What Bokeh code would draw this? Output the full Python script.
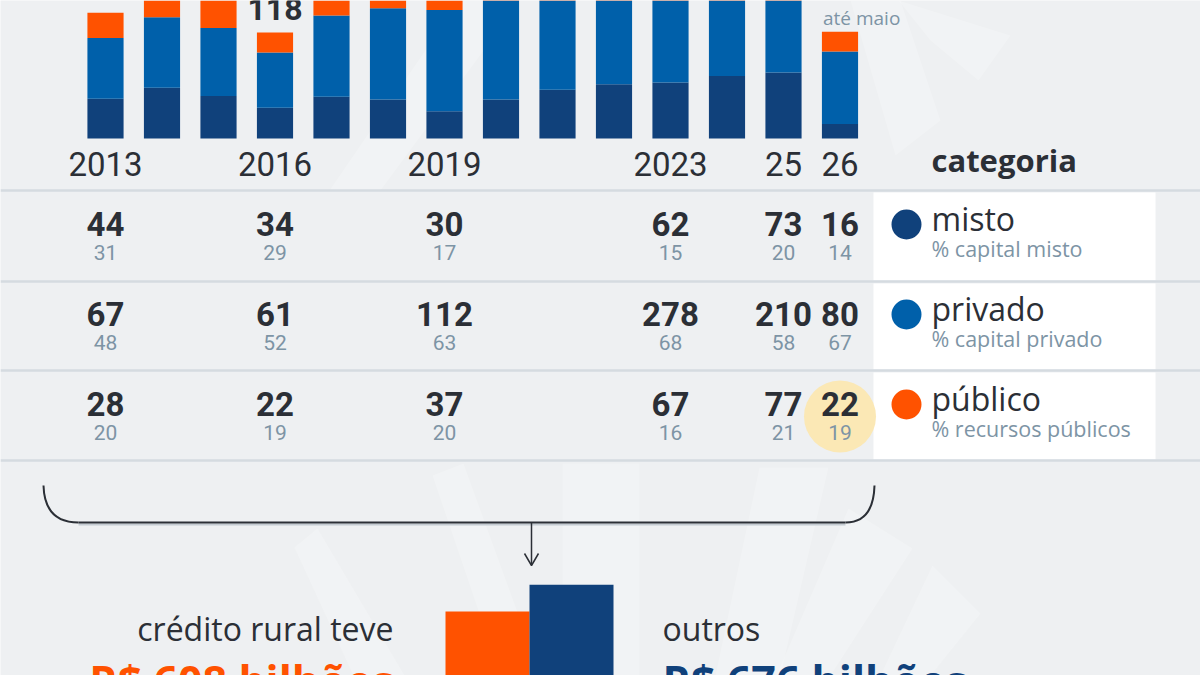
from bokeh.plotting import figure
from bokeh.models import Range1d, ColumnDataSource
from bokeh.core.properties import value
from bokeh.embed import file_html
from bokeh.resources import INLINE

# ---------------- data ----------------
years = [2013, 2014, 2015, 2016, 2017, 2018, 2019, 2020, 2021, 2022, 2023, 2024, 2025, 2026]
misto = [44, 56, 47, 34, 46, 43, 30, 43, 54, 60, 62, 69, 73, 16]
privado = [67, 78, 75, 61, 90, 101, 112, 140, 190, 230, 278, 250, 210, 80]
publico = [28, 27, 32, 22, 25, 28, 37, 35, 45, 60, 67, 70, 77, 22]
total_years = [2016]          # only total label visible in the picture
total_values = [118]

table_years = [2013, 2016, 2019, 2023, 2025, 2026]
year_labels = ["2013", "2016", "2019", "2023", "25", "26"]
misto_tab = [44, 34, 30, 62, 73, 16]
misto_pct = [31, 29, 17, 15, 20, 14]
privado_tab = [67, 61, 112, 278, 210, 80]
privado_pct = [48, 52, 63, 68, 58, 67]
publico_tab = [28, 22, 37, 67, 77, 22]
publico_pct = [20, 19, 20, 16, 21, 19]

categories = ["misto", "privado", "público"]
category_notes = ["% capital misto", "% capital privado", "% recursos públicos"]

compare_labels = ["crédito rural teve", "outros"]
compare_values = [608, 676]
compare_texts = ["R$ 608 bilhões", "R$ 676 bilhões"]

# ---------------- style ----------------
BG = "#eef0f2"
NAVY = "#10417b"
BLUE = "#0060aa"
ORANGE = "#ff5200"
DARK = "#2b2f36"
GREY = "#7d94a5"
RULE = "#d5dbe0"
YELLOW = "#fbe8b5"
NUM = value("Roboto")
WORD = value("Open Sans")
K_NUM, K_WORD = 0.40, 0.45   # baseline compensation


def base(y, size, k):
    return y - k * size


p = figure(width=1200, height=675, x_range=Range1d(0, 1200), y_range=Range1d(675, 0),
           output_backend="svg", toolbar_location=None, x_axis_type=None, y_axis_type=None,
           min_border=0, background_fill_color=BG, border_fill_color=BG,
           outline_line_color=None)
p.grid.visible = False

# scales for the data marks
BAR_BASE, BAR_PX = 138.0, 0.905
X0, PITCH = 105.0, 56.5
CMP_BASE, CMP_PX = 852.5, 0.397
CX0, CPITCH = 487.0, 84.0
p.extra_y_ranges = {
    "val": Range1d(start=(BAR_BASE - 675) / BAR_PX, end=BAR_BASE / BAR_PX),
    "cmpv": Range1d(start=(CMP_BASE - 675) / CMP_PX, end=CMP_BASE / CMP_PX),
}
p.extra_x_ranges = {
    "yr": Range1d(start=years[0] - X0 / PITCH, end=years[0] + (1200 - X0) / PITCH),
    "cmp": Range1d(start=-CX0 / CPITCH, end=(1200 - CX0) / CPITCH),
}

# faint watermark shapes
wm_xs = [[850, 900, 940, 895], [898, 1010, 978, 930], [459, 520, 380, 329],
         [294, 317, 404, 353], [432, 463, 540, 500], [562, 639, 639, 562],
         [759, 828, 780, 715], [848, 912, 830, 776], [932, 980, 930, 880]]
wm_ys = [[0, 0, 120, 155], [0, 35, 80, 40], [0, 0, 190, 190],
         [547, 528, 675, 675], [475, 463, 675, 675], [463, 463, 675, 675],
         [467, 467, 675, 675], [508, 548, 675, 675], [565, 613, 675, 675]]
p.patches(wm_xs, wm_ys, fill_color="white", fill_alpha=0.22, line_color=None)

# ---------------- stacked bars ----------------
src = ColumnDataSource(dict(year=years, misto=misto, privado=privado, publico=publico))
p.vbar_stack(["misto", "privado", "publico"], x="year", width=0.64, source=src,
             color=[NAVY, BLUE, ORANGE], line_color=None,
             x_range_name="yr", y_range_name="val")

tot_src = ColumnDataSource(dict(x=total_years, y=total_values, t=[str(v) for v in total_values]))
p.text(x="x", y="y", text="t", source=tot_src, x_range_name="yr", y_range_name="val",
       text_font=NUM, text_font_style="bold", text_font_size="32px", text_color=DARK,
       text_align="center", text_baseline="alphabetic", y_offset=-10 - K_NUM * 32)

last_total = misto[-1] + privado[-1] + publico[-1]
p.text(x=[years[-1]], y=[last_total], text=["até maio"], x_range_name="yr", y_range_name="val",
       text_font=WORD, text_font_size="19px", text_color=GREY,
       text_align="left", text_baseline="alphabetic", x_offset=-17, y_offset=-5 - K_WORD * 19)

# year labels
p.text(x=table_years, y=[base(177, 33, K_NUM)] * len(table_years), text=year_labels,
       x_range_name="yr", text_font=NUM, text_font_size="33px", text_color=DARK,
       text_align="center", text_baseline="alphabetic")
p.text(x=[931], y=[base(173, 31, K_WORD)], text=["categoria"], text_font=WORD,
       text_font_style="bold", text_font_size="31px", text_color=DARK,
       text_align="left", text_baseline="alphabetic")

# ---------------- table ----------------
p.quad(left=873, right=1155, top=[192, 283, 372], bottom=[280, 369, 459],
       fill_color="white", line_color=None)
p.segment(x0=[0] * 4, x1=[1200] * 4, y0=[190, 281, 370, 460], y1=[190, 281, 370, 460],
          line_color=RULE, line_width=2.5)

p.scatter(x=[table_years[-1]], y=[416], size=72, color=YELLOW, line_color=None,
          x_range_name="yr")

rows = [(misto_tab, misto_pct), (privado_tab, privado_pct), (publico_tab, publico_pct)]
for i, (vals, pcts) in enumerate(rows):
    yb = 237 + 90 * i
    p.text(x=table_years, y=[base(yb, 33, K_NUM)] * len(vals), text=[str(v) for v in vals],
           x_range_name="yr", text_font=NUM, text_font_style="bold", text_font_size="33px",
           text_color=DARK, text_align="center", text_baseline="alphabetic")
    p.text(x=table_years, y=[base(yb + 23, 21, K_NUM)] * len(pcts), text=[str(v) for v in pcts],
           x_range_name="yr", text_font=NUM, text_font_size="21px", text_color=GREY,
           text_align="center", text_baseline="alphabetic")

p.scatter(x=[906] * 3, y=[224, 314, 404], size=30, color=[NAVY, BLUE, ORANGE], line_color=None)
p.text(x=[931] * 3, y=[base(y, 32, K_WORD) for y in (232, 322, 412)], text=categories,
       text_font=WORD, text_font_size="32px", text_color=DARK,
       text_align="left", text_baseline="alphabetic")
p.text(x=[931] * 3, y=[base(y, 21.5, K_WORD) for y in (258, 348, 438)], text=category_notes,
       text_font=WORD, text_font_size="21.5px", text_color=GREY,
       text_align="left", text_baseline="alphabetic")

# ---------------- bracket & arrow ----------------
p.quadratic(x0=[43, 845], y0=[485, 522], x1=[78, 874], y1=[522, 485], cx=[44, 873], cy=[522, 522],
            line_color=DARK, line_width=2)
p.segment(x0=[78], x1=[845], y0=[524], y1=[524], line_color="#c4cbd2", line_width=2)
p.segment(x0=[78], x1=[845], y0=[522], y1=[522], line_color=DARK, line_width=2)
p.segment(x0=[531], x1=[531], y0=[522], y1=[564], line_color=DARK, line_width=1.5)
p.multi_line(xs=[[524, 531, 538]], ys=[[553, 565, 553]], line_color=DARK, line_width=1.5)

# ---------------- comparison ----------------
p.vbar(x=[0, 1], width=1.0, top=compare_values, bottom=0, color=[ORANGE, NAVY],
       line_color=None, x_range_name="cmp", y_range_name="cmpv")
p.text(x=[393, 662], y=[base(642, 32, K_WORD)] * 2, text=compare_labels, text_font=WORD,
       text_font_size="32px", text_color=DARK, text_align=["right", "left"],
       text_baseline="alphabetic")
p.text(x=[393, 662], y=[base(699, 43, K_WORD)] * 2, text=compare_texts, text_font=WORD,
       text_font_style="bold", text_font_size="43px", text_color=[ORANGE, NAVY],
       text_align=["right", "left"], text_baseline="alphabetic")

open("out.html", "w").write(file_html(p, INLINE))
